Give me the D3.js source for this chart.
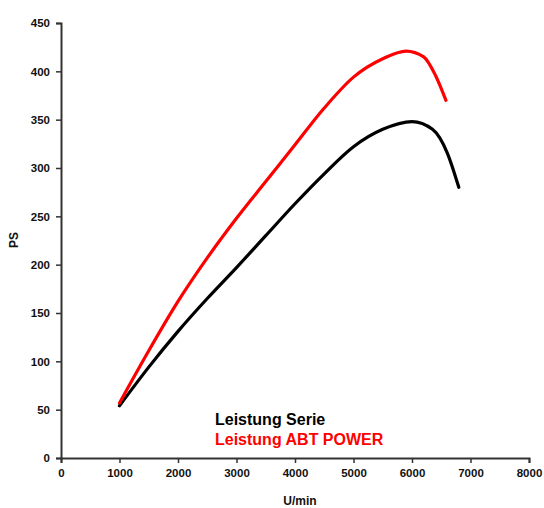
<!DOCTYPE html>
<html><head><meta charset="utf-8">
<script src="https://cdn.jsdelivr.net/npm/d3@7"></script>
<style>body{margin:0;background:#fff}svg{display:block}text{font-family:"Liberation Sans",Arial,sans-serif;font-weight:bold}</style>
</head><body>
<svg id="c" width="544" height="508"></svg>
<script>
const serieRpm = [1000,1500,2000,2500,3000,3500,4000,4500,5000,5500,6000,6350,6600,6800];
const seriePS  = [54,94,131,165,197,230,263,294,322,340,348,340,316,280];
const abtRpm   = [1000,1500,2000,2500,3000,3500,4000,4500,5000,5500,5900,6200,6400,6580];
const abtPS    = [57,111,162,207,248,286,324,362,394,413,421,415,396,370];
const xTicks = [0,1000,2000,3000,4000,5000,6000,7000,8000];
const yTicks = [0,50,100,150,200,250,300,350,400,450];
const legendLabels = ["Leistung Serie","Leistung ABT POWER"];
const seriesColors = ["#000000","#ff0000"];

const m = {l:61,t:23,r:15,b:50};
const W = 544, H = 508;
const svg = d3.select("#c");
const x = d3.scaleLinear().domain([0,8000]).range([m.l, W-m.r]);
const y = d3.scaleLinear().domain([0,450]).range([H-m.b, m.t]);

const xa = svg.append("g").attr("transform",`translate(0,${H-m.b})`)
  .call(d3.axisBottom(x).tickValues(xTicks).tickSize(5).tickPadding(6).tickFormat(d3.format("d")));
const ya = svg.append("g").attr("transform",`translate(${m.l},0)`)
  .call(d3.axisLeft(y).tickValues(yTicks).tickSize(5).tickPadding(6));
[xa,ya].forEach(a=>{
  a.selectAll("path").attr("stroke","#333").attr("stroke-width",2);
  a.selectAll("line").attr("stroke","#333").attr("stroke-width",1.5);
  a.selectAll("text").attr("font-size",11.5).attr("fill","#111").style("font-family",'"Liberation Sans",Arial,sans-serif').style("font-weight","bold");
});

const line = d3.line().x(d=>x(d[0])).y(d=>y(d[1])).curve(d3.curveMonotoneX);
const data = [d3.zip(serieRpm,seriePS), d3.zip(abtRpm,abtPS)];
data.forEach((d,i)=>{
  svg.append("path").datum(d).attr("d",line).attr("fill","none")
    .attr("stroke",seriesColors[i]).attr("stroke-width",3.2).attr("stroke-linecap","round").attr("stroke-linejoin","round");
});

legendLabels.forEach((t,i)=>{
  svg.append("text").attr("x",215).attr("y",425+i*20).attr("font-size",16).attr("fill",seriesColors[i]).text(t);
});

svg.append("text").attr("x",300).attr("y",505).attr("text-anchor","middle").attr("font-size",12).attr("fill","#111").text("U/min");
svg.append("text").attr("transform","translate(18,240) rotate(-90)").attr("text-anchor","middle").attr("font-size",12).attr("fill","#111").text("PS");
</script>
</body></html>
